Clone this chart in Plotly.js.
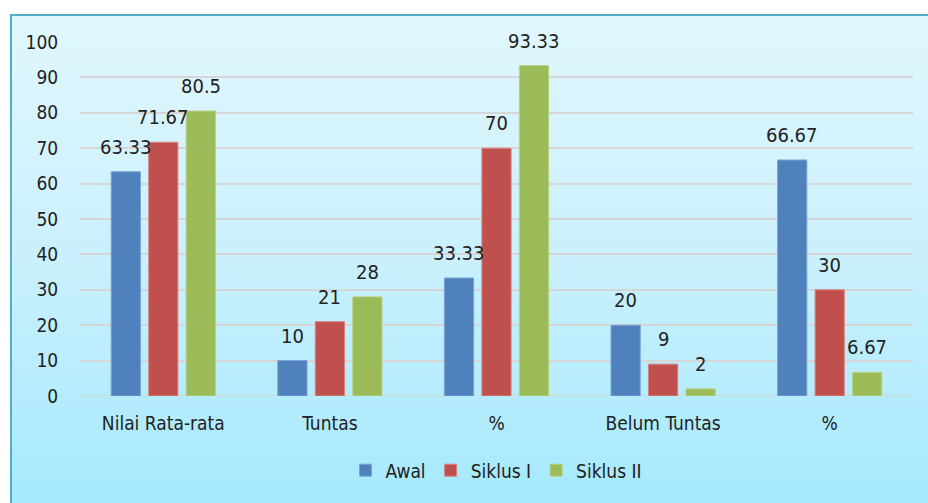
<!DOCTYPE html>
<html>
<head>
<meta charset="utf-8">
<script src="https://cdn.plot.ly/plotly-3.0.1.min.js"></script>
<style>
html,body{margin:0;padding:0;background:#fff;width:928px;height:503px;overflow:hidden;}
#bg{position:absolute;left:10px;top:14px;width:930px;height:500px;border-top:2px solid #4fb0c8;border-left:2px solid #4fb0c8;background:linear-gradient(to bottom,#e1f7fe 0%,#c9f0fd 50%,#a3e9fd 100%);}
#chart{position:absolute;left:0;top:0;width:928px;height:503px;}
</style>
</head>
<body>
<div id="bg"></div>
<div id="chart"></div>
<script>
const categories = ["Nilai Rata-rata", "Tuntas", "%", "Belum Tuntas", "%"];
const awal = [63.33, 10, 33.33, 20, 66.67];
const siklus1 = [71.67, 21, 70, 9, 30];
const siklus2 = [80.5, 28, 93.33, 2, 6.67];
const seriesNames = ["Awal", "Siklus I", "Siklus II"];
const colors = ["#4f81bd", "#c0504d", "#9bbb59"];
const lineColors = ["#7aa3d4", "#d98482", "#b7d183"];

const idx = categories.map((c, i) => i);
const font = "DejaVu Sans Condensed, Liberation Sans Narrow, Arial Narrow, sans-serif";
const txtColor = "#222222";
const bargap = 0.325;
const series = [awal, siklus1, siklus2];
const slot = (1 - bargap) / series.length;

const data = series.map((vals, k) => ({
  type: "bar",
  name: seriesNames[k],
  x: idx,
  y: vals,
  marker: {color: colors[k], line: {color: lineColors[k], width: 1}},
  hoverinfo: "none"
}));

const annotations = [];
series.forEach((vals, k) => {
  vals.forEach((v, i) => {
    annotations.push({
      x: i + (k - (series.length - 1) / 2) * slot,
      y: v, xref: "x", yref: "y",
      text: String(v), showarrow: false,
      yanchor: "bottom", yshift: 11,
      font: {family: font, size: 20, color: txtColor}
    });
  });
});

const layout = {
  width: 928, height: 503,
  margin: {l: 80, r: 15, t: 42, b: 107, autoexpand: false},
  paper_bgcolor: "rgba(0,0,0,0)",
  plot_bgcolor: "rgba(0,0,0,0)",
  barmode: "group",
  bargap: bargap,
  bargroupgap: 0.22,
  font: {family: font, size: 19, color: txtColor},
  xaxis: {
    tickmode: "array", tickvals: idx, ticktext: categories,
    range: [-0.5, 4.5],
    showgrid: false, zeroline: false, showline: false,
    ticks: "outside", ticklen: 10, tickcolor: "rgba(0,0,0,0)",
    tickfont: {family: font, size: 19, color: txtColor}
  },
  yaxis: {
    range: [0, 100], tickmode: "array", tickvals: [0,10,20,30,40,50,60,70,80,90,100],
    showgrid: true, gridcolor: "#d6d6d6", gridwidth: 2,
    zeroline: false, showline: false,
    ticks: "outside", ticklen: 17, tickcolor: "rgba(0,0,0,0)",
    tickfont: {family: font, size: 19, color: txtColor}
  },
  showlegend: true,
  legend: {
    orientation: "h", x: 0.5, xanchor: "center", y: -0.21, yanchor: "middle",
    font: {family: font, size: 19, color: txtColor},
    itemwidth: 30, traceorder: "normal"
  },
  annotations: annotations,
  shapes: [{type: "line", xref: "paper", yref: "y", x0: 0, x1: 1, y0: 0, y1: 0, line: {color: "#d6d6d6", width: 2}, layer: "below"}]
};

Plotly.newPlot("chart", data, layout, {displayModeBar: false, staticPlot: true});
</script>
</body>
</html>
